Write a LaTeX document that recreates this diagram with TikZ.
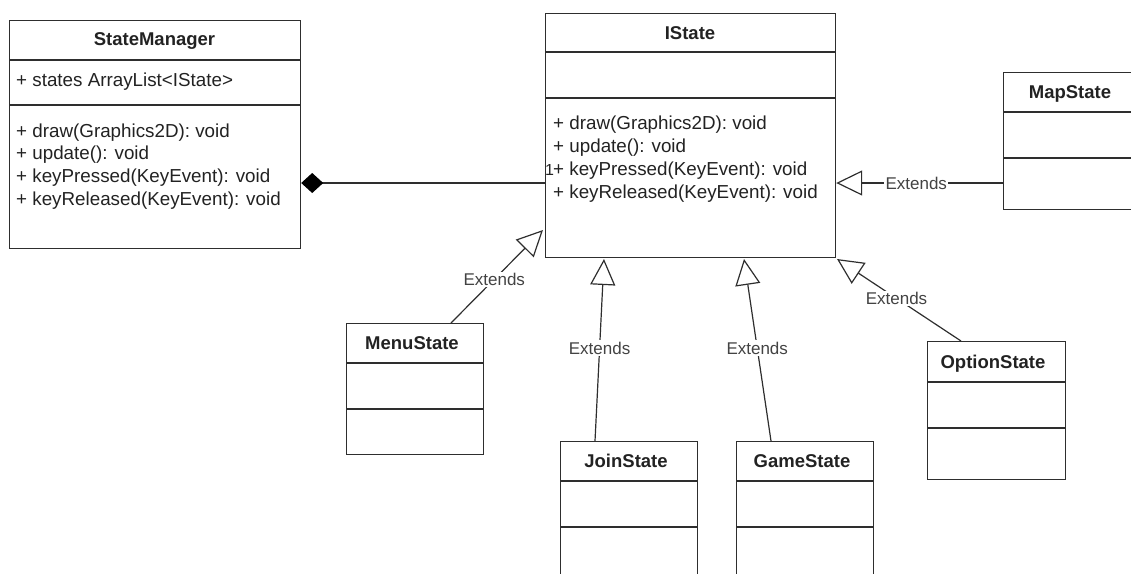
\documentclass[tikz,border=0pt]{standalone}
\usepackage{fontspec}
\setmainfont{Liberation Sans}
\usetikzlibrary{arrows.meta}
\definecolor{ln}{HTML}{2E2E2E}
\definecolor{tx}{HTML}{222222}
\begin{document}
\begin{tikzpicture}[x=1pt,y=-1pt,
  box/.style={draw=ln, line width=1.2pt},
  sep/.style={draw=ln, line width=1.2pt},
  title/.style={font=\bfseries\fontsize{18.5}{22}\selectfont, text=tx, anchor=base, inner sep=0pt},
  member/.style={font=\fontsize{18.8}{22}\selectfont, text=tx, anchor=base west, inner sep=0pt},
  ext/.style={draw=ln, line width=1.2pt, -{Triangle[open, length=26pt, width=25pt]}},
  extlbl/.style={font=\fontsize{17}{19}\selectfont, text=tx!85, fill=white, inner sep=1.5pt},
  comp/.style={draw=ln, line width=1.2pt, {Diamond[length=22pt, width=20pt, fill=black, color=black]}-}
]
\useasboundingbox (0,0) rectangle (1131,573);

% StateManager
\node[box, anchor=north west, minimum width=291pt, minimum height=228pt, inner sep=0pt] (sm) at (9,20) {};
\draw[sep] (9,60) -- (300,60);
\draw[sep] (9,105) -- (300,105);
\node[title] (smt) at (154.5,45.5) {StateManager};
\node[member] (sma) at (16,86) {+ states ArrayList<IState>};
\node[member] (sm1) at (16,137) {+ draw(Graphics2D): void};
\node[member] (sm2) at (16,159.5) {+ update(): void};
\node[member] (sm3) at (16,182.5) {+ keyPressed(KeyEvent): void};
\node[member] (sm4) at (16,205) {+ keyReleased(KeyEvent): void};

% IState
\node[box, anchor=north west, minimum width=290pt, minimum height=244pt, inner sep=0pt] (is) at (545,13) {};
\draw[sep] (545,52) -- (835,52);
\draw[sep] (545,98) -- (835,98);
\node[title] (ist) at (690,39) {IState};
\node[member] (is1) at (553,129) {+ draw(Graphics2D): void};
\node[member] (is2) at (553,152) {+ update(): void};
\node[member] (is3) at (553,175) {+ keyPressed(KeyEvent): void};
\node[member] (is4) at (553,198) {+ keyReleased(KeyEvent): void};
\node[font=\fontsize{16}{18}\selectfont, text=tx, anchor=base, inner sep=0pt] (one) at (549.5,175) {1};

% MapState
\node[box, anchor=north west, minimum width=137pt, minimum height=137pt, inner sep=0pt] (map) at (1003,72) {};
\draw[sep] (1003,112) -- (1140,112);
\draw[sep] (1003,158) -- (1140,158);
\node[title] (mapt) at (1070,98) {MapState};

% MenuState
\node[box, anchor=north west, minimum width=137pt, minimum height=131pt, inner sep=0pt] (menu) at (346,323) {};
\draw[sep] (346,363) -- (483,363);
\draw[sep] (346,409) -- (483,409);
\node[title] (menut) at (412,349) {MenuState};

% JoinState
\node[box, anchor=north west, minimum width=137pt, minimum height=160pt, inner sep=0pt] (join) at (560,441) {};
\draw[sep] (560,481) -- (697,481);
\draw[sep] (560,527) -- (697,527);
\node[title] (joint) at (626,467) {JoinState};

% GameState
\node[box, anchor=north west, minimum width=137pt, minimum height=160pt, inner sep=0pt] (game) at (736,441) {};
\draw[sep] (736,481) -- (873,481);
\draw[sep] (736,527) -- (873,527);
\node[title] (gamet) at (802,467) {GameState};

% OptionState
\node[box, anchor=north west, minimum width=138pt, minimum height=138pt, inner sep=0pt] (opt) at (927,341) {};
\draw[sep] (927,382) -- (1065,382);
\draw[sep] (927,428) -- (1065,428);
\node[title] (optt) at (993,368) {OptionState};

% connector end points on box borders
\coordinate (smR) at (sm.north east |- 0,183);
\coordinate (isL) at (is.north west |- 0,183);
\coordinate (isR) at (is.north east |- 0,183);
\coordinate (mapL) at (map.north west |- 0,183);
\coordinate (isML) at (543,230);
\coordinate (menuT) at (451,323);
\coordinate (isJ) at (604,259);
\coordinate (joinT) at (595,441);
\coordinate (isG) at (744,259);
\coordinate (gameT) at (771,441);
\coordinate (isO) at (837,259);
\coordinate (optT) at (961,341);

% composition
\draw[comp] (smR) -- (isL);

% generalisations
\draw[ext] (mapL) -- node[extlbl, pos=0.52] {Extends} (isR);
\draw[ext] (menuT) -- node[extlbl, pos=0.47] {Extends} (isML);
\draw[ext] (joinT) -- node[extlbl, pos=0.51] {Extends} (isJ);
\draw[ext] (gameT) -- node[extlbl, pos=0.51] {Extends} (isG);
\draw[ext] (optT) -- node[extlbl, pos=0.52] {Extends} (isO);
\end{tikzpicture}
\end{document}
